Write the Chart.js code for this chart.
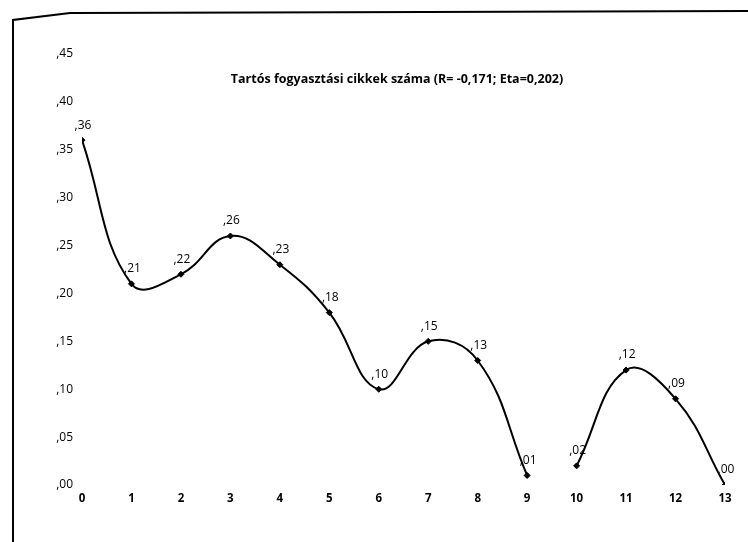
<!DOCTYPE html>
<html>
<head>
<meta charset="utf-8">
<script src="https://cdn.jsdelivr.net/npm/chart.js@4"></script>
<style>
    html, body { margin: 0; padding: 0; background: #fff; overflow: hidden; }
    #lap { position: relative; width: 748px; height: 542px; }
    #keret, canvas { position: absolute; left: 0; top: 0; }
</style>
</head>
<body>
<div id="lap">
    <!-- a beszkennelt lap kerete -->
    <svg id="keret" width="748" height="542">
        <polyline points="13,542 13,20 70,13 748,11" fill="none" stroke="#000" stroke-width="2"/>
    </svg>
    <canvas id="grafikon" width="748" height="542"></canvas>
</div>
<script>
// Adatok
const kategoriak = [0, 1, 2, 3, 4, 5, 6, 7, 8, 9, 10, 11, 12, 13];
const ertekek = [0.36, 0.21, 0.22, 0.26, 0.23, 0.18, 0.10, 0.15, 0.13, 0.01, 0.02, 0.12, 0.09, 0.00];
const szakadasUtan = 9;   // a vonal megszakad a 9 és 10 között
const cim = 'Tartós fogyasztási cikkek száma (R= -0,171; Eta=0,202)';

const betu = '"Open Sans", Lato, sans-serif';

// ,36 forma
function vesszos(v) {
    const n = Math.round(v * 100);
    return ',' + String(n).padStart(2, '0');
}

// pontok összeállítása, a szakadásnál egy üres ponttal
const pontok = [];
kategoriak.forEach((k, i) => {
    pontok.push({ x: k, y: ertekek[i] });
    if (k === szakadasUtan) pontok.push({ x: k + 0.5, y: null });
});

// cím és adatfeliratok rajzolása
const feliratok = {
    id: 'feliratok',
    afterDatasetsDraw(chart) {
        const ctx = chart.ctx;
        ctx.save();
        ctx.fillStyle = '#000';
        ctx.textAlign = 'center';
        ctx.textBaseline = 'middle';
        ctx.font = 'bold 12.5px ' + betu;
        ctx.fillText(cim, 397, 79);

        ctx.font = '12px ' + betu;
        const meta = chart.getDatasetMeta(0);
        meta.data.forEach((p, i) => {
            const v = chart.data.datasets[0].data[i].y;
            if (v === null) return;
            ctx.fillText(vesszos(v), p.x + 1, p.y - 15);
        });
        ctx.restore();
    }
};

const grafikon = new Chart(document.getElementById('grafikon'), {
    type: 'line',
    data: {
        datasets: [{
            data: pontok,
            borderColor: '#000',
            borderWidth: 2,
            backgroundColor: '#000',
            pointStyle: 'rectRot',
            pointRadius: 3,
            pointBorderWidth: 1,
            tension: 0.42,
            spanGaps: false
        }]
    },
    options: {
        responsive: false,
        animation: false,
        layout: { padding: { left: 40, right: 23, top: 54, bottom: 0 } },
        plugins: {
            legend: { display: false },
            title: { display: false },
            tooltip: { enabled: false }
        },
        scales: {
            x: {
                type: 'linear',
                min: 0,
                max: 13,
                grid: { display: false, drawTicks: false },
                border: { display: false },
                ticks: {
                    stepSize: 1,
                    padding: 7,
                    color: '#000',
                    font: { family: betu, size: 11.5, weight: 'bold' }
                },
                afterFit(s) { s.height = 57; }
            },
            y: {
                min: 0,
                max: 0.45,
                grid: { display: false, drawTicks: false },
                border: { display: false },
                ticks: {
                    stepSize: 0.05,
                    padding: 9,
                    color: '#000',
                    font: { family: betu, size: 12 },
                    callback: v => vesszos(v)
                },
                afterFit(s) { s.width = 42; }
            }
        }
    },
    plugins: [feliratok]
});
</script>
</body>
</html>
